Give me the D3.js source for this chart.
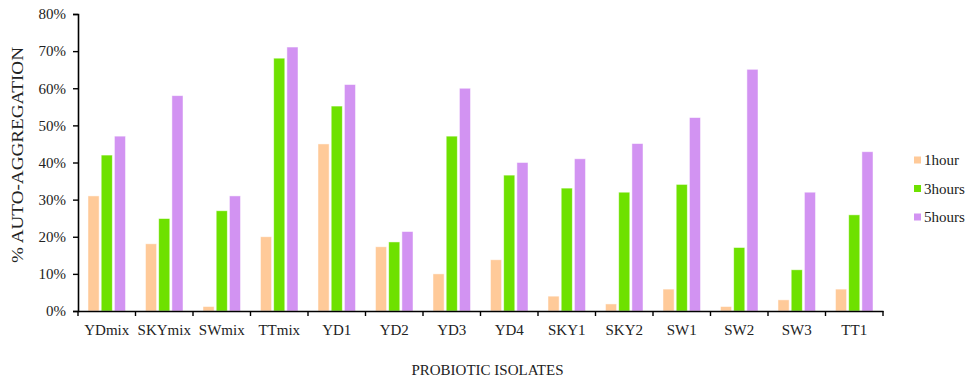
<!DOCTYPE html>
<html>
<head>
<meta charset="utf-8">
<script src="https://cdn.jsdelivr.net/npm/d3@7/dist/d3.min.js"></script>
<style>
  html, body { margin: 0; padding: 0; background: #fff; }
  svg { display: block; }
  text { font-family: "Liberation Serif", "Times New Roman", serif; fill: #222; }
</style>
</head>
<body>
<svg id="chart" width="967" height="379"></svg>
<script>
const categories = ["YDmix","SKYmix","SWmix","TTmix","YD1","YD2","YD3","YD4","SKY1","SKY2","SW1","SW2","SW3","TT1"];
const seriesNames = ["1hour","3hours","5hours"];
const hour1  = [31, 18.1, 1.2, 20, 45, 17.3, 10, 13.8, 4.0, 1.9, 5.9, 1.2, 3.0, 5.9];
const hours3 = [42, 24.9, 27, 68.1, 55.2, 18.6, 47.1, 36.6, 33.1, 32, 34.1, 17.1, 11.1, 25.9];
const hours5 = [47.1, 58, 31, 71.1, 61, 21.4, 60, 40, 41, 45.1, 52.1, 65.1, 32, 42.9];
const yTicks = [0, 10, 20, 30, 40, 50, 60, 70, 80];
const colors = ["#FFCA99", "#6EE100", "#D293F2"];

const series = [hour1, hours3, hours5];
const svg = d3.select("#chart");
const m = {left: 78, top: 14, right: 967 - 883, bottom: 379 - 311};
const W = 967 - m.left - m.right, H = 379 - m.top - m.bottom;
const g = svg.append("g").attr("transform", `translate(${m.left},${m.top})`);

const x0 = d3.scaleBand().domain(categories).range([0, W]).paddingInner(0).paddingOuter(0);
const inner = 37.5 / x0.step();
const x1 = d3.scaleBand().domain(d3.range(3)).range([0, x0.step() * inner]).paddingInner(0.16).paddingOuter(0);
const y = d3.scaleLinear().domain([0, 80]).range([H, 0]);

// bars
categories.forEach((c, i) => {
  const gx = x0(c) + (x0.step() - x0.step() * inner) / 2;
  const grp = g.append("g").attr("transform", `translate(${gx},0)`);
  grp.selectAll("rect").data(series.map((s, k) => ({k, v: s[i]})))
    .enter().append("rect")
    .attr("x", d => x1(d.k))
    .attr("width", x1.bandwidth())
    .attr("y", d => y(d.v))
    .attr("height", d => y(0) - y(d.v))
    .attr("fill", d => colors[d.k])
    .attr("stroke", "#fff").attr("stroke-opacity", 0.6).attr("stroke-width", 0.8);
});

// y axis
const yAxis = d3.axisLeft(y).tickValues(yTicks).tickFormat(d => d + "%").tickSize(5).tickPadding(7);
const ya = g.append("g").call(yAxis);
ya.select(".domain").attr("stroke", "#000").attr("stroke-width", 1.6);
ya.selectAll(".tick line").attr("stroke", "#000").attr("stroke-width", 1.4);
ya.selectAll(".tick text").attr("font-size", 15).attr("font-family", "Liberation Serif").attr("fill", "#222");

// x axis
const xa = g.append("g").attr("transform", `translate(0,${H})`)
  .call(d3.axisBottom(x0).tickSize(0).tickPadding(0));
xa.select(".domain").attr("stroke", "#000").attr("stroke-width", 1.6);
xa.selectAll(".tick text").attr("font-size", 15).attr("font-family", "Liberation Serif").attr("fill", "#222").attr("dy", 0).attr("y", 24);
// boundary ticks
const bounds = categories.map(c => x0(c)).concat([W]);
xa.selectAll("line.bt").data(bounds).enter().append("line").attr("class", "bt")
  .attr("x1", d => d).attr("x2", d => d).attr("y1", 0).attr("y2", 5)
  .attr("stroke", "#000").attr("stroke-width", 1.4);

// axis titles
svg.append("text").attr("x", 487.5).attr("y", 375)
  .attr("text-anchor", "middle").attr("font-size", 15).text("PROBIOTIC ISOLATES");
svg.append("text").attr("transform", "translate(23,155) rotate(-90)")
  .attr("text-anchor", "middle").attr("font-size", 16)
  .attr("textLength", 216).attr("lengthAdjust", "spacingAndGlyphs")
  .text("% AUTO-AGGREGATION");

// legend
const lg = svg.append("g").attr("transform", "translate(914,160)");
seriesNames.forEach((n, k) => {
  const row = lg.append("g").attr("transform", `translate(0,${k * 28.5})`);
  row.append("rect").attr("x", 0).attr("y", -3.5).attr("width", 7).attr("height", 7).attr("fill", colors[k]);
  row.append("text").attr("x", 10).attr("y", 5).attr("font-size", 15).text(n);
});
</script>
</body>
</html>
